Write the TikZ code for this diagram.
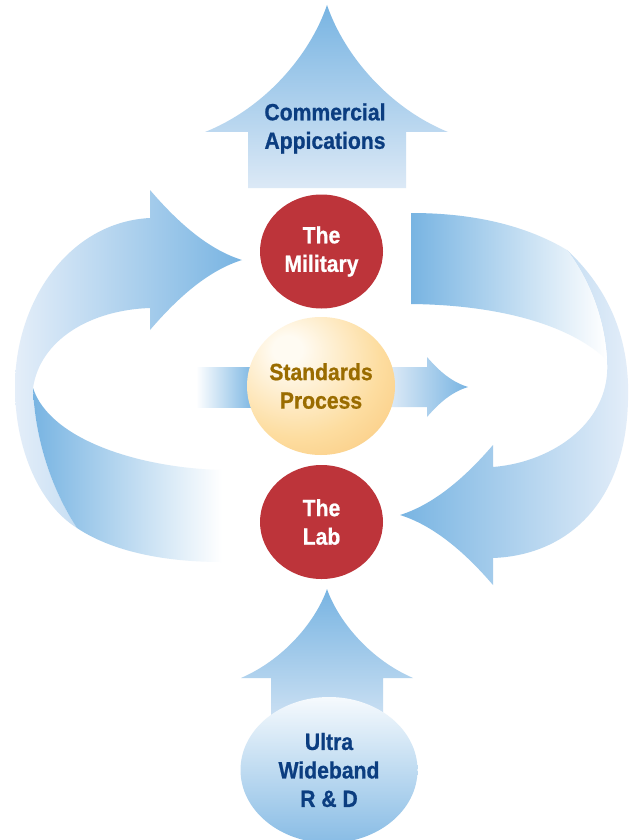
\documentclass[tikz,border=0pt]{standalone}
\usepackage{fontspec}
\usetikzlibrary{shapes.geometric}
\newfontfamily\lblfont[FakeStretch=0.9,BoldFeatures={FakeBold=0.8}]{Liberation Sans}
\definecolor{arrowblue}{HTML}{78B4E2}
\definecolor{arrowlight}{HTML}{E4EEF9}
\definecolor{shaftlight}{HTML}{DCE9F6}
\definecolor{redball}{HTML}{BD343A}
\definecolor{navytext}{HTML}{0B3D80}
\definecolor{goldtext}{HTML}{9A6C00}
\definecolor{stdC}{HTML}{FFFBF2}
\definecolor{stdM}{HTML}{FDDDA0}
\definecolor{stdE}{HTML}{F8BE6C}
\definecolor{uwbtop}{HTML}{F6FAFD}
\definecolor{uwbbot}{HTML}{88BCE5}
\pgfdeclareradialshading{stdball}{\pgfpoint{-12bp}{14bp}}{color(0bp)=(stdC); color(5bp)=(stdC); color(28bp)=(stdM); color(52bp)=(stdE); color(90bp)=(stdE)}
\begin{document}
\begin{tikzpicture}[x=1pt,y=-1pt,
  lbl/.style={font=\lblfont\bfseries\fontsize{23.5}{28.5}\selectfont, align=center, inner sep=0pt},
  redcircle/.style={ellipse, fill=redball, minimum width=123pt, minimum height=114pt, inner sep=0pt, text=white, lbl}]
\useasboundingbox (0,0) rectangle (629,840);
\fill[white] (0,0) rectangle (629,840);

% ---- top arrow (Commercial Appications)
\shade[top color=arrowblue, bottom color=shaftlight]
  (248,188) -- (248,132) -- (205,132) .. controls (265,108) and (310,55) .. (327,5)
  .. controls (344,55) and (389,108) .. (448,132) -- (406,132) -- (406,188) -- cycle;

% ---- bottom arrow (from Ultra Wideband)
\shade[top color=arrowblue, bottom color=shaftlight]
  (271,745) -- (271,678) -- (241,678) .. controls (287,658) and (317,618) .. (327,589)
  .. controls (337,618) and (367,658) .. (413,678) -- (383,678) -- (383,745) -- cycle;

% ---- left big arrow: upper band with back strip
\shade[left color=arrowlight, right color=arrowblue]
  (242,260) .. controls (210,250) and (180,225) .. (150,190) -- (150,218)
  .. controls (70,222) and (15,300) .. (15,387)
  .. controls (15,450) and (40,505) .. (77,528)
  .. controls (52,490) and (35,440) .. (33,388)
  .. controls (40,340) and (90,310) .. (150,308) -- (150,330)
  .. controls (180,295) and (210,270) .. (242,260) -- cycle;
% lower front band
\shade[left color=arrowblue, right color=white]
  (33,388) .. controls (35,440) and (52,490) .. (77,528)
  .. controls (110,550) and (160,562) .. (222,562) -- (222,470)
  .. controls (140,468) and (50,440) .. (33,388) -- cycle;

% ---- right big arrow: lower band with back strip and head
\shade[left color=arrowblue, right color=arrowlight]
  (567,250) .. controls (610,290) and (630,340) .. (628,400)
  .. controls (626,500) and (570,555) .. (493,558) -- (493,585)
  .. controls (463,550) and (432,525) .. (400,515)
  .. controls (432,505) and (463,480) .. (493,445) -- (493,467)
  .. controls (555,462) and (612,420) .. (607,360)
  .. controls (605,320) and (590,280) .. (567,250) -- cycle;
% upper front band
\shade[left color=arrowblue, right color=white]
  (411,213) .. controls (480,213) and (530,228) .. (567,250)
  .. controls (590,280) and (605,320) .. (607,360)
  .. controls (570,325) and (500,305) .. (411,304) -- cycle;

% ---- small arrows through the Standards Process
\shade[left color=white, right color=arrowblue]
  (196,367) rectangle (255,407);
\shade[left color=shaftlight!80!white, right color=arrowblue]
  (385,367) -- (427,367) -- (427,357) .. controls (440,372) and (452,382) .. (468,387)
  .. controls (452,392) and (440,402) .. (427,417) -- (427,407) -- (385,407) -- cycle;

% ---- nodes
\node[lbl, text=navytext] (comm) at (325,128.5) {Commercial\\Appications};
\node[redcircle] (mil) at (321.5,251.5) {The\\Military};
\node[ellipse, shading=stdball, minimum width=148pt, minimum height=138pt, inner sep=0pt,
      lbl, text=goldtext] (std) at (321,386) {Standards\\Process};
\node[redcircle] (lab) at (321.5,522) {The\\Lab};
\node[ellipse, top color=uwbtop, bottom color=uwbbot, minimum width=177pt, minimum height=146pt,
      inner sep=0pt, lbl, text=navytext] (uwb) at (329,770) {Ultra\\Wideband\\R \& D};
\end{tikzpicture}
\end{document}
